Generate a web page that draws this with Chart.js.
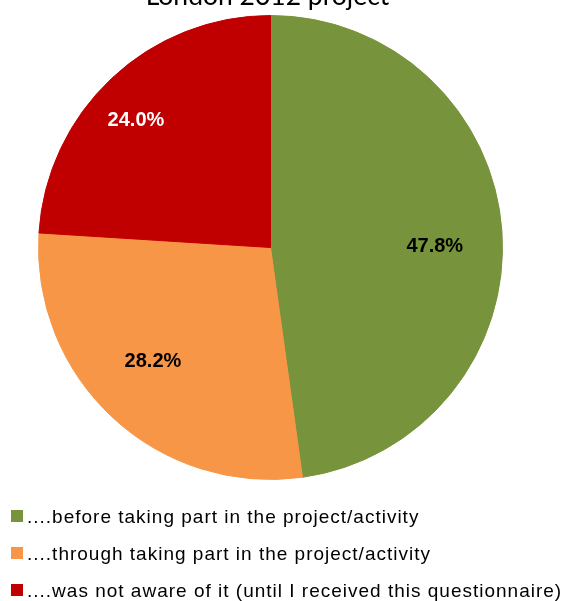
<!DOCTYPE html>
<html>
<head>
<meta charset="utf-8">
<script src="https://cdn.jsdelivr.net/npm/chart.js@4/dist/chart.umd.min.js"></script>
<style>
  html, body { margin: 0; padding: 0; background: #ffffff; overflow: hidden; }
  #wrap { position: relative; width: 564px; height: 601px; }
  canvas { display: block; }
</style>
</head>
<body>
<div id="wrap"><canvas id="pie" width="564" height="601"></canvas></div>
<script>
// Awareness of the London 2012 project
const chartTitle = 'London 2012 project';
const categories = [
  '....before taking part in the project/activity',
  '....through taking part in the project/activity',
  '....was not aware of it (until I received this questionnaire)'
];
const shares = [47.8, 28.2, 24.0];
const sliceColors = ['#77933C', '#F79646', '#C00000'];
const labelColors = ['#000000', '#000000', '#ffffff'];

// Percentage labels placed inside each slice
const sliceLabels = {
  id: 'sliceLabels',
  afterDatasetsDraw(chart, args, opts) {
    const ctx = chart.ctx;
    const meta = chart.getDatasetMeta(0);
    const values = chart.data.datasets[0].data;
    ctx.save();
    ctx.font = 'bold 20px "Liberation Sans", Arial, sans-serif';
    ctx.textAlign = 'center';
    ctx.textBaseline = 'middle';
    meta.data.forEach((arc, i) => {
      const p = arc.getProps(['x', 'y', 'startAngle', 'endAngle', 'outerRadius'], true);
      const mid = (p.startAngle + p.endAngle) / 2 + opts.nudge[i] * Math.PI / 180;
      const r = p.outerRadius * opts.radius[i];
      ctx.fillStyle = opts.colors[i];
      ctx.fillText(values[i].toFixed(1) + '%', p.x + Math.cos(mid) * r, p.y + Math.sin(mid) * r);
    });
    ctx.restore();
  }
};

// Title and vertical legend drawn on the canvas
const frame = {
  id: 'frame',
  afterDraw(chart, args, opts) {
    const ctx = chart.ctx;
    ctx.save();
    ctx.fillStyle = '#000000';
    ctx.font = opts.titleFont;
    ctx.textAlign = 'center';
    ctx.textBaseline = 'alphabetic';
    ctx.fillText(opts.title, opts.titleX, opts.titleY);

    ctx.font = opts.legendFont;
    ctx.textAlign = 'left';
    if ('letterSpacing' in ctx) ctx.letterSpacing = opts.legendSpacing;
    const ds = chart.data.datasets[0];
    chart.data.labels.forEach((label, i) => {
      const base = opts.legendTop + i * opts.legendStep;
      ctx.fillStyle = ds.backgroundColor[i];
      ctx.fillRect(opts.boxX, base - 13, 12, 12);
      ctx.fillStyle = '#000000';
      ctx.fillText(label, opts.textX, base);
    });
    ctx.restore();
  }
};

new Chart(document.getElementById('pie'), {
  type: 'pie',
  data: {
    labels: categories,
    datasets: [{
      data: shares,
      backgroundColor: sliceColors,
      borderColor: sliceColors,
      borderWidth: 1,
      hoverOffset: 0
    }]
  },
  options: {
    responsive: false,
    animation: false,
    devicePixelRatio: 1,
    events: [],
    layout: { padding: { left: 38, right: 61, top: 15, bottom: 121 } },
    plugins: {
      legend: { display: false },
      tooltip: { enabled: false },
      title: { display: false },
      sliceLabels: {
        colors: labelColors,
        radius: [0.708, 0.705, 0.797],
        nudge: [3.5, 3.1, -3.5]
      },
      frame: {
        title: chartTitle,
        titleFont: '26.5px Lato, "Open Sans", sans-serif',
        titleX: 267.5,
        titleY: 5,
        legendFont: '19px "Liberation Sans", Arial, sans-serif',
        legendSpacing: '1px',
        legendTop: 523,
        legendStep: 37,
        boxX: 11,
        textX: 27
      }
    }
  },
  plugins: [sliceLabels, frame]
});
</script>
</body>
</html>
